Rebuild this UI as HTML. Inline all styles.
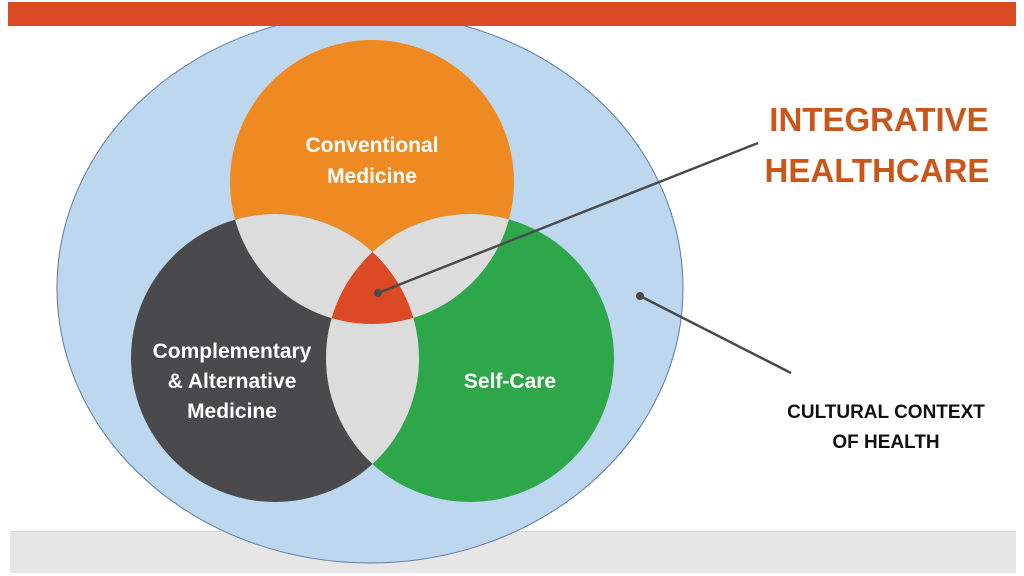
<!DOCTYPE html>
<html><head><meta charset="utf-8"><style>
html,body{margin:0;padding:0;background:#fff;}
svg{display:block;}
</style></head><body>
<svg width="1024" height="576" viewBox="0 0 1024 576" xmlns="http://www.w3.org/2000/svg">
<defs>
<clipPath id="co"><circle cx="372" cy="182" r="142"/></clipPath>
<clipPath id="cd"><circle cx="275" cy="358" r="144"/></clipPath>
<clipPath id="cg"><circle cx="470" cy="358" r="144"/></clipPath>
</defs>
<rect x="0" y="0" width="1024" height="576" fill="#fff"/>
<rect x="10" y="531" width="1006" height="42" fill="#e6e6e6"/>
<line x1="10" y1="531.5" x2="1016" y2="531.5" stroke="#d6d6d6"/>
<ellipse cx="370" cy="288" rx="313" ry="275" fill="#bdd7ee" stroke="#5b7aa6" stroke-width="1"/>
<rect x="8" y="2" width="1008" height="24" fill="#dc4a25"/>
<circle cx="372" cy="182" r="142" fill="#ef8a22"/>
<circle cx="275" cy="358" r="144" fill="#4a4a4c"/>
<circle cx="470" cy="358" r="144" fill="#2ea74a"/>
<g clip-path="url(#co)"><circle cx="275" cy="358" r="144" fill="#dcdcdc"/><circle cx="470" cy="358" r="144" fill="#dcdcdc"/></g>
<g clip-path="url(#cd)"><circle cx="470" cy="358" r="144" fill="#dcdcdc"/></g>
<g clip-path="url(#co)"><g clip-path="url(#cd)"><circle cx="470" cy="358" r="144" fill="#dc4a25"/></g></g>
<g font-family="Liberation Sans, sans-serif" fill="#fff" font-size="21" font-weight="bold" text-anchor="middle">
<text x="372" y="152">Conventional</text>
<text x="372" y="183">Medicine</text>
<text x="232" y="358">Complementary</text>
<text x="232" y="388">&amp; Alternative</text>
<text x="232" y="418">Medicine</text>
<text x="510" y="388">Self-Care</text>
</g>
<line x1="378" y1="293" x2="758" y2="143" stroke="#4a4a4c" stroke-width="2.5"/>
<circle cx="378" cy="293" r="4" fill="#4a4a4c"/>
<line x1="640" y1="296" x2="791" y2="373" stroke="#4a4a4c" stroke-width="2.5"/>
<circle cx="640" cy="296" r="4" fill="#4a4a4c"/>
<g font-family="Liberation Sans, sans-serif" font-weight="bold" text-anchor="middle">
<text x="879" y="131" font-size="33" fill="#c9561a">INTEGRATIVE</text>
<text x="877" y="182" font-size="33" fill="#c9561a">HEALTHCARE</text>
<text x="886" y="418" font-size="19" fill="#111">CULTURAL CONTEXT</text>
<text x="886" y="448" font-size="19" fill="#111">OF HEALTH</text>
</g>
</svg>
</body></html>
